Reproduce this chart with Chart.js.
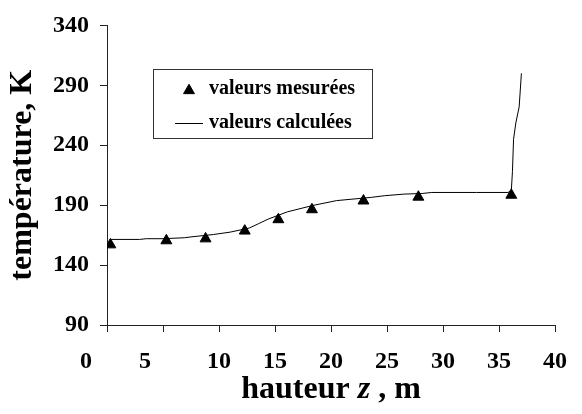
<!DOCTYPE html>
<html>
<head>
<meta charset="utf-8">
<script src="https://cdn.jsdelivr.net/npm/chart.js@4/dist/chart.umd.min.js"></script>
<style>
  html, body { margin: 0; padding: 0; background: #fff; }
  #wrap { width: 582px; height: 414px; }
</style>
</head>
<body>
<div id="wrap"><canvas id="c" width="582" height="414"></canvas></div>
<script>
// Measured values (triangles)
const measuredZ = [0.3, 5.3, 8.8, 12.3, 15.3, 18.3, 22.9, 27.8, 36.1];
const measuredT = [157, 160.4, 162, 168.5, 178, 186.3, 193.6, 196.8, 198.4];
// Calculated values (line)
const calcZ = [0.3, 2.9, 3.5, 5.0, 6.9, 7.5, 9.5, 11.0, 12.7, 13.5, 14.4, 16.1, 18.4, 20.5, 23.6, 24.8, 26.5, 28.2, 29.0, 33.0, 35.8, 36.1, 36.2, 36.3, 36.5, 36.8, 37.0];
const calcT = [161.4, 161.4, 162.0, 162.0, 162.8, 163.5, 165.5, 167.5, 170.9, 174.4, 178.4, 184.4, 189.8, 193.8, 196.5, 197.9, 199.2, 199.8, 200.6, 200.6, 200.6, 202, 218, 245, 258.5, 272, 300];
// Axis ticks
const xTicks = [0, 5, 10, 15, 20, 25, 30, 35, 40];
const yTicks = [90, 140, 190, 240, 290, 340];
const seriesLabels = ['valeurs mesurées', 'valeurs calculées'];
// x title: [text, italic?]
const xTitleParts = [['hauteur ', false], ['z', true], [' , m', false]];
const yTitle = 'température, K';

const SERIF = "'Liberation Serif', 'Times New Roman', serif";

const boxLegend = {
  id: 'boxLegend',
  afterDraw(chart) {
    const ctx = chart.ctx;
    ctx.save();
    const bx = 153.5, by = 69.5, bw = 219, bh = 69;
    ctx.strokeStyle = '#333';
    ctx.lineWidth = 1;
    ctx.strokeRect(bx, by, bw, bh);
    ctx.font = 'bold 20px ' + SERIF;
    ctx.fillStyle = '#000';
    ctx.textBaseline = 'middle';
    ctx.textAlign = 'left';
    const ds = chart.data.datasets;
    const r1 = 89, r2 = 123;
    ctx.fillStyle = '#000';
    ctx.strokeStyle = '#000';
    Chart.helpers.drawPoint(ctx, {pointStyle: 'triangle', radius: 6.3, rotation: 0, borderWidth: 1}, 189, r1 + 1.5);
    ctx.fillText(ds[0].label, 209, r1);
    ctx.beginPath();
    ctx.moveTo(175, r2 + 0.5);
    ctx.lineTo(203, r2 + 0.5);
    ctx.lineWidth = 1;
    ctx.stroke();
    ctx.fillText(ds[1].label, 209, r2);

    // x-axis title with italic z
    const area = chart.chartArea;
    const cx = (area.left + area.right) / 2;
    const fonts = xTitleParts.map(p => (p[1] ? 'italic ' : '') + 'bold 32px ' + SERIF);
    let total = 0;
    const widths = xTitleParts.map((p, i) => { ctx.font = fonts[i]; const w = ctx.measureText(p[0]).width; total += w; return w; });
    let x = cx - total / 2;
    ctx.textBaseline = 'alphabetic';
    xTitleParts.forEach((p, i) => { ctx.font = fonts[i]; ctx.fillText(p[0], x, 398); x += widths[i]; });
    ctx.restore();
  }
};

const pad = (v) => {
  if (v === 0) return '0' + '\u0020'.repeat(7);
  if (v === 5) return '5' + '\u0020'.repeat(6);
  return String(v);
};

new Chart(document.getElementById('c'), {
  type: 'scatter',
  data: {
    datasets: [
      {
        label: seriesLabels[0],
        data: measuredZ.map((z, i) => ({x: z, y: measuredT[i]})),
        pointStyle: 'triangle',
        pointRadius: 6.3,
        pointBackgroundColor: '#000',
        pointBorderColor: '#000',
        pointBorderWidth: 1,
        showLine: false,
        order: 0
      },
      {
        label: seriesLabels[1],
        data: calcZ.map((z, i) => ({x: z, y: calcT[i]})),
        showLine: true,
        borderColor: '#000',
        borderWidth: 1,
        pointRadius: 0,
        tension: 0,
        order: 1
      }
    ]
  },
  options: {
    responsive: false,
    animation: false,
    devicePixelRatio: 1,
    layout: { padding: { top: 16, right: 13, bottom: 0, left: 0 } },
    plugins: { legend: { display: false }, tooltip: { enabled: false } },
    scales: {
      x: {
        type: 'linear',
        min: 0, max: 40,
        afterBuildTicks: (s) => { s.ticks = xTicks.map(v => ({value: v})); },
        afterFit: (s) => { s.height = 89; },
        border: { display: true, color: '#222', width: 1 },
        grid: { drawOnChartArea: false, drawTicks: true, tickLength: 7, color: '#222' },
        ticks: {
          autoSkip: false, maxRotation: 0, padding: 15, color: '#000',
          font: { family: SERIF, size: 24, weight: 'bold' },
          callback: (v) => pad(v)
        },
        title: { display: false }
      },
      y: {
        type: 'linear',
        min: 90, max: 340,
        afterBuildTicks: (s) => { s.ticks = yTicks.map(v => ({value: v})); },
        afterFit: (s) => { s.width = 107; },
        border: { display: true, color: '#222', width: 1 },
        grid: { drawOnChartArea: false, drawTicks: true, tickLength: 7, color: '#222' },
        ticks: {
          autoSkip: false, padding: 11, color: '#000',
          font: { family: SERIF, size: 24, weight: 'bold' }
        },
        title: {
          display: true, text: yTitle, color: '#000',
          font: { family: SERIF, size: 32, weight: 'bold' },
          padding: { top: 4, bottom: 0 }
        }
      }
    }
  },
  plugins: [boxLegend]
});
</script>
</body>
</html>
